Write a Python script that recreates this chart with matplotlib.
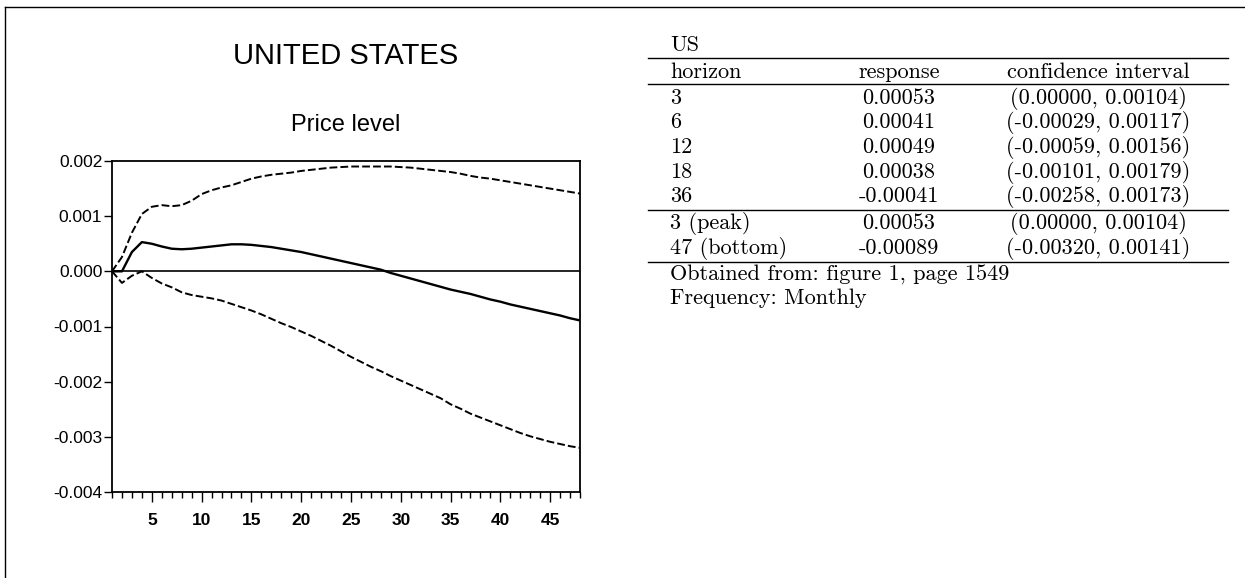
import numpy as np
import matplotlib.pyplot as plt
from matplotlib.lines import Line2D
from matplotlib.ticker import MultipleLocator, FixedLocator

# chart data (x = months 1..48)
months = np.arange(1, 49)
response = [0.0, 0.0, 0.00035, 0.00053, 0.00050, 0.00045, 0.00041, 0.00040, 0.00041, 0.00043,
            0.00045, 0.00047, 0.00049, 0.00049, 0.00048, 0.00046, 0.00044, 0.00041, 0.00038, 0.00035,
            0.00031, 0.00027, 0.00023, 0.00019, 0.00015, 0.00011, 0.00007, 0.00003, -0.00003, -0.00008,
            -0.00013, -0.00018, -0.00023, -0.00028, -0.00033, -0.00037, -0.00041, -0.00046, -0.00051, -0.00055,
            -0.00060, -0.00064, -0.00068, -0.00072, -0.00076, -0.00080, -0.00085, -0.00089]
upper = [0.0, 0.00026, 0.00070, 0.00104, 0.00117, 0.00120, 0.00118, 0.00120, 0.00128, 0.00140,
         0.00147, 0.00152, 0.00156, 0.00162, 0.00168, 0.00172, 0.00175, 0.00177, 0.00179, 0.00182,
         0.00184, 0.00186, 0.00188, 0.00189, 0.00190, 0.00190, 0.00190, 0.00190, 0.00190, 0.00189,
         0.00188, 0.00186, 0.00184, 0.00182, 0.00180, 0.00177, 0.00173, 0.00170, 0.00168, 0.00165,
         0.00162, 0.00159, 0.00156, 0.00153, 0.00150, 0.00147, 0.00144, 0.00141]
lower = [0.0, -0.00021, -0.00008, 0.0, -0.00012, -0.00022, -0.00029, -0.00038, -0.00043, -0.00046,
         -0.00049, -0.00053, -0.00059, -0.00065, -0.00071, -0.00078, -0.00086, -0.00094, -0.00101, -0.00109,
         -0.00117, -0.00126, -0.00135, -0.00145, -0.00155, -0.00164, -0.00173, -0.00181, -0.00190, -0.00198,
         -0.00206, -0.00214, -0.00222, -0.00230, -0.00241, -0.00249, -0.00258, -0.00265, -0.00272, -0.00279,
         -0.00286, -0.00293, -0.00299, -0.00304, -0.00309, -0.00313, -0.00317, -0.00320]
yticks = [0.002, 0.001, 0.0, -0.001, -0.002, -0.003, -0.004]
ytick_labels = ['0.002', '0.001', '0.000', '-0.001', '-0.002', '-0.003', '-0.004']
xticks = [5, 10, 15, 20, 25, 30, 35, 40, 45]

# table data
tab_title = 'US'
tab_header = ['horizon', 'response', 'confidence interval']
tab_horizon = ['3', '6', '12', '18', '36']
tab_resp = ['0.00053', '0.00041', '0.00049', '0.00038', '-0.00041']
tab_lo = ['0.00000', '-0.00029', '-0.00059', '-0.00101', '-0.00258']
tab_hi = ['0.00104', '0.00117', '0.00156', '0.00179', '0.00173']
ext_horizon = ['3 (peak)', '47 (bottom)']
ext_resp = ['0.00053', '-0.00089']
ext_lo = ['0.00000', '-0.00320']
ext_hi = ['0.00104', '0.00141']
notes = ['Obtained from: figure 1, page 1549', 'Frequency: Monthly']

W, H = 1245, 578
fig = plt.figure(figsize=(W / 100, H / 100), dpi=100)

def fx(px):
    return px / W

def fy(py):
    return 1 - py / H

# page frame (top and left edge)
fig.add_artist(Line2D([fx(5.5), 1.0], [fy(7), fy(7)], color='black', lw=1.0))
fig.add_artist(Line2D([fx(5.5), fx(5.5)], [fy(7), 0.0], color='black', lw=1.0))

# chart
sans = 'Liberation Sans'
ax = fig.add_axes([fx(112), fy(492), fx(580 - 112), (492 - 161) / H])
ax.plot(months, upper, color='black', lw=1.4, linestyle=(0, (4, 1.6)))
ax.plot(months, lower, color='black', lw=1.4, linestyle=(0, (4, 1.6)))
ax.plot(months, response, color='black', lw=1.7)
ax.axhline(0, color='black', lw=1.2)
ax.set_xlim(1, 48)
ax.set_ylim(-0.004, 0.002)
for s in ax.spines.values():
    s.set_linewidth(1.3)

ax.yaxis.set_major_locator(FixedLocator(yticks))
ax.set_yticklabels(ytick_labels, fontfamily=sans, fontsize=12.5)
ax.xaxis.set_major_locator(FixedLocator(xticks))
ax.xaxis.set_minor_locator(MultipleLocator(1))
ax.set_xticklabels([str(t) for t in xticks], fontfamily=sans, fontsize=12.5, fontweight='bold')
ax.tick_params(axis='y', length=6, width=1.0, pad=1)
ax.tick_params(axis='x', which='major', length=7, width=1.0, pad=8)
ax.tick_params(axis='x', which='minor', length=4, width=1.0)

fig.text(fx(346), fy(64), 'UNITED STATES', fontfamily=sans, fontsize=21, ha='center', va='baseline')
fig.text(fx(346), fy(131), 'Price level', fontfamily=sans, fontsize=17, ha='center', va='baseline')

# table
serif = 'cmr10'
fs = 16
x_l, x_r = 648, 1228
x_h, x_resp, x_ci = 670, 899, 1098

def rule(py):
    fig.add_artist(Line2D([fx(x_l), fx(x_r)], [fy(py), fy(py)], color='black', lw=1.0))

def row(py, h, r, ci):
    fig.text(fx(x_h), fy(py), h, fontfamily=serif, fontsize=fs, ha='left', va='baseline')
    fig.text(fx(x_resp), fy(py), r, fontfamily=serif, fontsize=fs, ha='center', va='baseline')
    fig.text(fx(x_ci), fy(py), ci, fontfamily=serif, fontsize=fs, ha='center', va='baseline')

fig.text(fx(x_h), fy(51), tab_title, fontfamily=serif, fontsize=fs, ha='left', va='baseline')
rule(58)
row(77.5, *tab_header)
rule(84)
ys = [104, 128.5, 153, 177.5, 202]
for py, h, r, lo, hi in zip(ys, tab_horizon, tab_resp, tab_lo, tab_hi):
    row(py, h, r, f'({lo}, {hi})')
rule(210)
for py, h, r, lo, hi in zip([229, 253.5], ext_horizon, ext_resp, ext_lo, ext_hi):
    row(py, h, r, f'({lo}, {hi})')
rule(262)
for py, t in zip([280.5, 304.5], notes):
    fig.text(fx(x_h), fy(py), t, fontfamily=serif, fontsize=fs, ha='left', va='baseline')

fig.savefig('out.png', dpi=100)
